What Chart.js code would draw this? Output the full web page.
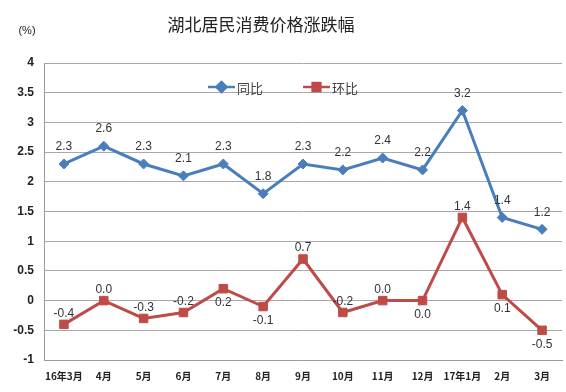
<!DOCTYPE html>
<html>
<head>
<meta charset="utf-8">
<script src="https://cdn.jsdelivr.net/npm/chart.js@4/dist/chart.umd.min.js"></script>
<style>
	html, body { margin: 0; padding: 0; background: #fff; overflow: hidden; }
	#wrap { width: 566px; height: 392px; overflow: hidden; }
</style>
</head>
<body>
<div id="wrap"><canvas id="c" width="578" height="392"></canvas></div>
<script>
const months = ['16年3月', '4月', '5月', '6月', '7月', '8月', '9月', '10月', '11月', '12月', '17年1月', '2月', '3月'];
const yoy = [2.3, 2.6, 2.3, 2.1, 2.3, 1.8, 2.3, 2.2, 2.4, 2.2, 3.2, 1.4, 1.2];
const mom = [-0.4, 0.0, -0.3, -0.2, 0.2, -0.1, 0.7, -0.2, 0.0, 0.0, 1.4, 0.1, -0.5];
const seriesNames = ['同比', '环比'];
const chartTitle = '湖北居民消费价格涨跌幅';
const unitLabel = '(%)';

const blue = '#4a7ebb';
const red = '#be4b48';
const numFont = '"Liberation Sans", "Noto Sans CJK SC", sans-serif';
const cjkFont = '"Noto Sans CJK SC", sans-serif';

// where each 环比 label sits relative to its point
const momLabelSide = ['up', 'up', 'up', 'up', 'down', 'down', 'up', 'up', 'up', 'down', 'up', 'down', 'down'];

const decorations = {
	id: 'decorations',
	afterDraw(chart){
		const ctx = chart.ctx;
		ctx.save();

		// title + unit
		ctx.fillStyle = '#222';
		ctx.textAlign = 'center';
		ctx.textBaseline = 'middle';
		ctx.font = '17px ' + cjkFont;
		ctx.fillText(chartTitle, 261, 25);
		ctx.font = '11px ' + numFont;
		ctx.fillText(unitLabel, 27, 31);

		// value labels
		ctx.font = '12px ' + numFont;
		ctx.fillStyle = '#333';
		const m0 = chart.getDatasetMeta(0);
		m0.data.forEach((pt, i) =>{
			ctx.fillText(yoy[i].toFixed(1), pt.x, pt.y - 17);
		});
		const m1 = chart.getDatasetMeta(1);
		m1.data.forEach((pt, i) =>{
			const dy = momLabelSide[i] == 'up' ? -11 : 14;
			ctx.fillText(mom[i].toFixed(1), pt.x, pt.y + dy);
		});

		// legend inside the plot
		const items = [
			{x: 208, color: blue, style: 'rectRot', r: 5, text: seriesNames[0]},
			{x: 303, color: red, style: 'rect', r: 5.5, text: seriesNames[1]}
		];
		items.forEach((it) =>{
			const y = 87;
			ctx.strokeStyle = it.color;
			ctx.lineWidth = 2.5;
			ctx.beginPath();
			ctx.moveTo(it.x, y);
			ctx.lineTo(it.x + 27, y);
			ctx.stroke();
			Chart.helpers.drawPoint(ctx, {pointStyle: it.style, radius: it.r, borderWidth: 1}, it.x + 13.5, y);
			ctx.fillStyle = it.color;
			ctx.fill();
			ctx.fillStyle = '#444';
			ctx.textAlign = 'left';
			ctx.font = '13px ' + cjkFont;
			ctx.fillText(it.text, it.x + 29, y + 1);
		});
		ctx.restore();
	}
};

new Chart(document.getElementById('c'), {
	type: 'line',
	data: {
		labels: months,
		datasets: [{
			label: seriesNames[0],
			data: yoy,
			borderColor: blue,
			backgroundColor: blue,
			borderWidth: 3,
			pointStyle: 'rectRot',
			pointRadius: 5,
			pointBorderWidth: 1,
			tension: 0
		}, {
			label: seriesNames[1],
			data: mom,
			borderColor: red,
			backgroundColor: red,
			borderWidth: 3,
			pointStyle: 'rect',
			pointRadius: 6,
			pointBorderWidth: 1,
			tension: 0
		}]
	},
	options: {
		responsive: false,
		animation: false,
		layout: {padding: {left: 0, top: 63, right: 16, bottom: 0}},
		plugins: {
			legend: {display: false},
			tooltip: {enabled: false}
		},
		scales: {
			x: {
				offset: true,
				grid: {display: false, drawTicks: false},
				border: {display: true, color: '#9a9a9a', width: 1},
				ticks: {
					font: {family: cjkFont, size: 10, weight: 'bold'},
					color: '#222',
					padding: 10,
					maxRotation: 0,
					autoSkip: false
				},
				afterFit(scale){ scale.height = 32; }
			},
			y: {
				min: -1,
				max: 4,
				grid: {color: '#a8a8a8', drawTicks: false},
				border: {display: true, color: '#9a9a9a', width: 1},
				ticks: {
					stepSize: 0.5,
					font: {family: numFont, size: 12, weight: 'bold'},
					color: '#222',
					padding: 10,
					callback: (v) => String(+v.toFixed(1))
				},
				afterFit(scale){ scale.width = 44; }
			}
		}
	},
	plugins: [decorations]
});
</script>
</body>
</html>
